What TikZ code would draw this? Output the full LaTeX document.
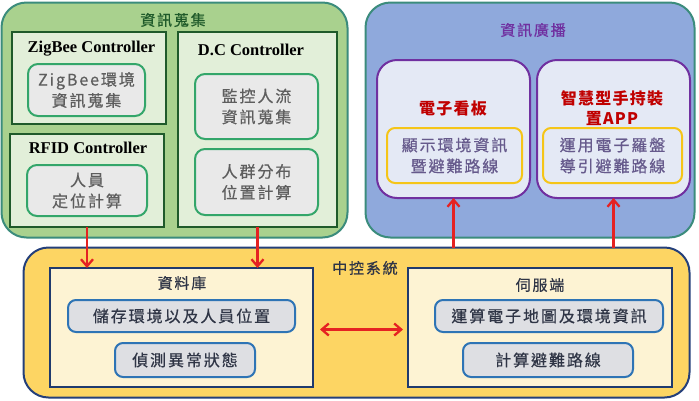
\documentclass[tikz,border=0pt]{standalone}
\usepackage{fontspec}
\setmainfont{Liberation Serif}
\newfontfamily\cjk{Noto Sans CJK TC}[LetterSpace=12,FakeBold=0.6]
\newfontfamily\cjkb{Noto Sans CJK TC}[LetterSpace=8]
\usetikzlibrary{arrows.meta}
\definecolor{gfill}{HTML}{A9D18E}
\definecolor{gline}{HTML}{3B8C7C}
\definecolor{bfill}{HTML}{8FA9DC}
\definecolor{yfill}{HTML}{FDD563}
\definecolor{yline}{HTML}{243F7A}
\definecolor{cfill}{HTML}{E2EFD9}
\definecolor{cline}{HTML}{1F5A2A}
\definecolor{ifill}{HTML}{E9E9E9}
\definecolor{iline}{HTML}{33A66A}
\definecolor{pfill}{HTML}{E4E9F5}
\definecolor{pline}{HTML}{7030A0}
\definecolor{oline}{HTML}{F5C518}
\definecolor{dfill}{HTML}{FDF3D3}
\definecolor{dline}{HTML}{1F3A6E}
\definecolor{dinfill}{HTML}{DEDFE3}
\definecolor{dinline}{HTML}{2E74B5}
\definecolor{arrred}{HTML}{E52222}
\definecolor{titred}{HTML}{C00000}
\definecolor{gtext}{HTML}{5E5E5E}
\definecolor{ptext}{HTML}{665A8C}
\definecolor{ntext}{HTML}{2F3546}
\begin{document}
\begin{tikzpicture}[x=1pt,y=-1pt,
  box/.style={rectangle,inner sep=0pt,outer sep=0pt},
  outer/.style={box,rounded corners=25pt,line width=2pt},
  ctrl/.style={box,draw=cline,fill=cfill,line width=2.5pt},
  gin/.style={box,draw=iline,fill=ifill,line width=2pt,rounded corners=10pt,
     font=\cjk\fontsize{16}{21}\selectfont,text=gtext,align=center},
  pbox/.style={box,draw=pline,fill=pfill,line width=2pt,rounded corners=20pt},
  obox/.style={box,draw=oline,fill=pfill,line width=2pt,rounded corners=8pt,
     font=\cjk\fontsize{16}{21}\selectfont,text=ptext,align=center},
  dbox/.style={box,draw=dline,fill=dfill,line width=2pt},
  din/.style={box,draw=dinline,fill=dinfill,line width=2pt,rounded corners=8pt,
     font=\cjk\fontsize{16}{21}\selectfont,text=ntext},
  ctitle/.style={font=\bfseries\fontsize{16.5}{18}\selectfont,text=black,inner sep=0pt},
  ttl/.style={font=\cjk\fontsize{15}{18}\selectfont,inner sep=0pt},
  arr/.style={draw=arrred,line width=2.3pt,-{Straight Barb[length=7pt,width=12pt]}},
  arrb/.style={draw=arrred,line width=2.3pt,{Straight Barb[length=7pt,width=12pt]}-{Straight Barb[length=7pt,width=12pt]}}
]
\useasboundingbox (0,0) rectangle (699,400);
% outer regions
\node[outer,draw=gline,fill=gfill,minimum width=346pt,minimum height=235pt] (green) at (174.5,120) {};
\node[outer,draw=gline,fill=bfill,minimum width=329pt,minimum height=235pt] (blue) at (530,120) {};
\node[outer,draw=yline,fill=yfill,minimum width=666pt,minimum height=150pt] (ctr) at (356.5,322.5) {};
\node[ttl,text=cline] (gt) at (173,20) {資訊蒐集};
\node[ttl,text=pline] (bt) at (533,30) {資訊廣播};
\node[ttl,text=ntext] (yt) at (365,268) {中控系統};
% controllers
\node[ctrl,minimum width=154pt,minimum height=92pt] (zig) at (89,78) {};
\node[ctrl,minimum width=154pt,minimum height=93pt] (rfid) at (87,180.5) {};
\node[ctrl,minimum width=159pt,minimum height=195pt] (dc) at (257.5,129.5) {};
\node[ctitle] (zigt) at (91.5,49) {ZigBee Controller};
\node[ctitle] (rfidt) at (88,148) {RFID Controller};
\node[ctitle] (dct) at (251,50) {D.C Controller};
\node[gin,minimum width=117pt,minimum height=52pt] (zigi) at (86.5,90) {ZigBee環境\\資訊蒐集};
\node[gin,minimum width=120pt,minimum height=51pt] (rfidi) at (87,190.5) {人員\\定位計算};
\node[gin,minimum width=123pt,minimum height=65pt] (dci1) at (256.5,106.5) {監控人流\\資訊蒐集};
\node[gin,minimum width=123pt,minimum height=66pt] (dci2) at (256.5,182) {人群分布\\位置計算};
% broadcast
\node[pbox,minimum width=153pt,minimum height=138pt] (bl) at (453.5,129) {};
\node[pbox,minimum width=153pt,minimum height=138pt] (br) at (613.5,129) {};
\node[font=\cjkb\bfseries\fontsize{16}{20}\selectfont,text=titred,inner sep=0pt] (blt) at (453,108) {電子看板};
\node[font=\cjkb\bfseries\fontsize{16}{20}\selectfont,text=titred,inner sep=0pt,align=center] (brt) at (612,108) {智慧型手持裝\\置APP};
\node[obox,minimum width=135pt,minimum height=55pt] (bli) at (454.5,155.5) {顯示環境資訊\\暨避難路線};
\node[obox,minimum width=139pt,minimum height=55pt] (bri) at (612.5,155.5) {運用電子羅盤\\導引避難路線};
% central
\node[dbox,minimum width=263pt,minimum height=119pt] (db) at (181.5,327.5) {};
\node[dbox,minimum width=264pt,minimum height=119pt] (srv) at (540,327.5) {};
\node[ttl,text=ntext] (dbt) at (182,283) {資料庫};
\node[ttl,text=ntext] (srvt) at (540,285) {伺服端};
\node[din,minimum width=227pt,minimum height=32pt] (db1) at (181.5,316) {儲存環境以及人員位置};
\node[din,minimum width=140pt,minimum height=34pt] (db2) at (185,360) {偵測異常狀態};
\node[din,minimum width=228pt,minimum height=32pt] (srv1) at (549,316) {運算電子地圖及環境資訊};
\node[din,minimum width=170pt,minimum height=34pt] (srv2) at (548,360) {計算避難路線};
% arrows
\draw[arr] (rfid.south) -- (rfid.south |- db.north);
\draw[arr] (dc.south) -- (dc.south |- db.north);
\draw[arr] (bl.south |- ctr.north) -- (bl.south);
\draw[arr] (br.south |- ctr.north) -- (br.south);
\draw[arrb,shorten <=7pt,shorten >=5pt] ([yshift=-2pt]db.east) -- ([yshift=-2pt]srv.west);
\end{tikzpicture}
\end{document}
